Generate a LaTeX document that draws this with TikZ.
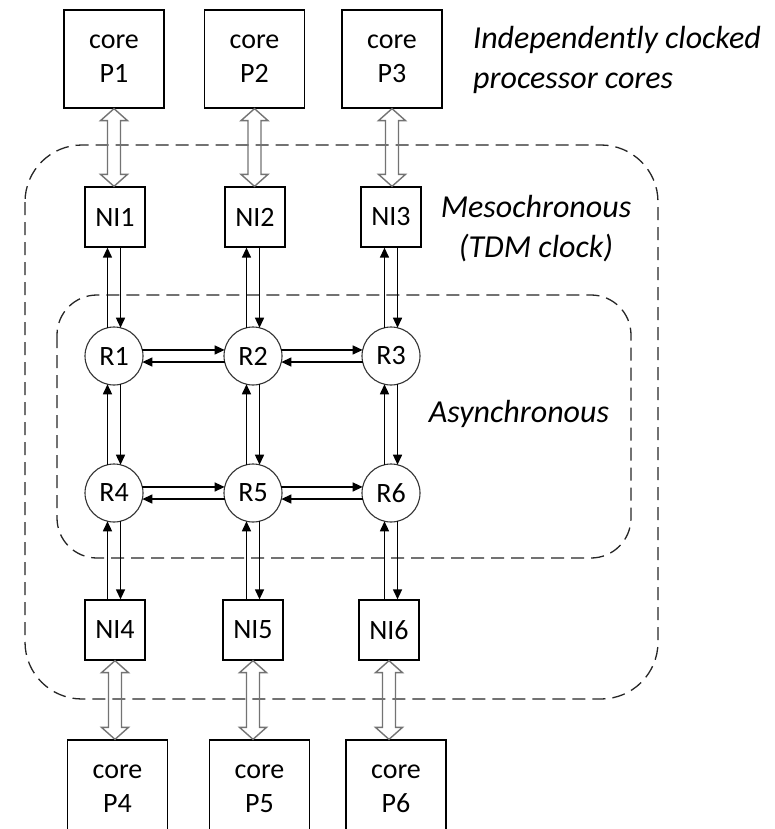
\documentclass[tikz,border=0pt]{standalone}
\usepackage{fontspec}
\setmainfont{Carlito}
\usetikzlibrary{arrows.meta,calc}

\tikzset{
  core/.style={draw, line width=1.3pt, minimum width=100pt, minimum height=98pt,
    inner sep=0pt, align=center, font=\fontsize{28}{34}\selectfont},
  ni/.style={draw, line width=1.3pt, minimum width=60pt, minimum height=60pt,
    inner sep=0pt, font=\fontsize{28}{30}\selectfont},
  router/.style={draw, circle, line width=1.1pt, draw=black!80, minimum size=58pt,
    inner sep=0pt, outer sep=0pt, font=\fontsize{28}{30}\selectfont},
  link/.style={line width=1.4pt, -{Triangle[length=10pt,width=9pt]}},
  fat/.style={draw=black!55, line width=1.4pt},
  clockzone/.style={draw=black!85, line width=1.3pt, dash pattern=on 13pt off 7pt},
  lbl/.style={inner sep=0pt, font=\fontsize{32}{40}\selectfont\itshape}
}

% hollow double-headed arrow between the bottom of #1 and the top of #2
\newcommand{\fatlink}[2]{%
  \path[fat] let \p1=(#1.south), \p2=(#2.north) in
    (\x1,\y1) -- (\x1+13.5pt,\y1-12pt) -- (\x1+6.5pt,\y1-12pt)
    -- (\x1+6.5pt,\y2+12pt) -- (\x1+13.5pt,\y2+12pt) -- (\x1,\y2)
    -- (\x1-13.5pt,\y2+12pt) -- (\x1-6.5pt,\y2+12pt)
    -- (\x1-6.5pt,\y1-12pt) -- (\x1-13.5pt,\y1-12pt) -- cycle;}

\begin{document}
\begin{tikzpicture}[x=1pt,y=-1pt]
\useasboundingbox (0,0) rectangle (775,829);
\clip (0,0) rectangle (775,829);

% clock domains
\draw[clockzone, rounded corners=57pt] (25,145) rectangle (658,699);
\draw[clockzone, rounded corners=40pt] (57,295) rectangle (631,558);

% processor cores
\node[core] (P1) at (114,59)  {core\\P1};
\node[core] (P2) at (254.5,59) {core\\P2};
\node[core] (P3) at (392,59)  {core\\P3};
\node[core] (P4) at (117.5,789) {core\\P4};
\node[core] (P5) at (259.5,789) {core\\P5};
\node[core] (P6) at (396,789)  {core\\P6};

% network interfaces
\node[ni] (NI1) at (115,217) {NI1};
\node[ni] (NI2) at (255,217) {NI2};
\node[ni] (NI3) at (391,217) {NI3};
\node[ni] (NI4) at (115,630) {NI4};
\node[ni] (NI5) at (253,630) {NI5};
\node[ni] (NI6) at (389,630) {NI6};

% routers
\node[router] (R1) at (114,356) {R1};
\node[router] (R2) at (253,356) {R2};
\node[router] (R3) at (391,356) {R3};
\node[router] (R4) at (114,493) {R4};
\node[router] (R5) at (253,493) {R5};
\node[router] (R6) at (391,493) {R6};

% core <-> NI links
\fatlink{P1}{NI1}
\fatlink{P2}{NI2}
\fatlink{P3}{NI3}
\fatlink{NI4}{P4}
\fatlink{NI5}{P5}
\fatlink{NI6}{P6}

% NI <-> router links (top row)
\foreach \n/\r in {NI1/R1, NI2/R2, NI3/R3} {
  \draw[link] (\r.103) -- (\r.103 |- \n.south);
  \draw[link] (\r.77 |- \n.south) -- (\r.77);
}
% router <-> router, vertical
\foreach \a/\b in {R1/R4, R2/R5, R3/R6} {
  \draw[link] (\b.103) -- (\a.257);
  \draw[link] (\a.283) -- (\b.77);
}
% router <-> NI links (bottom row)
\foreach \r/\n in {R4/NI4, R5/NI5, R6/NI6} {
  \draw[link] (\r.257 |- \n.north) -- (\r.257);
  \draw[link] (\r.283) -- (\r.283 |- \n.north);
}
% router <-> router, horizontal
\foreach \a/\b in {R1/R2, R2/R3, R4/R5, R5/R6} {
  \draw[link] (\a.12) -- (\b.168);
  \draw[link] (\b.192) -- (\a.348);
}

% domain labels
\node[lbl, anchor=west, align=left] (lcores) at (473,60)
  {Independently clocked\\processor cores};
\node[lbl, align=center] (lmeso) at (536,229) {Mesochronous\\(TDM clock)};
\node[lbl] (lasync) at (519,414) {Asynchronous};
\end{tikzpicture}
\end{document}
